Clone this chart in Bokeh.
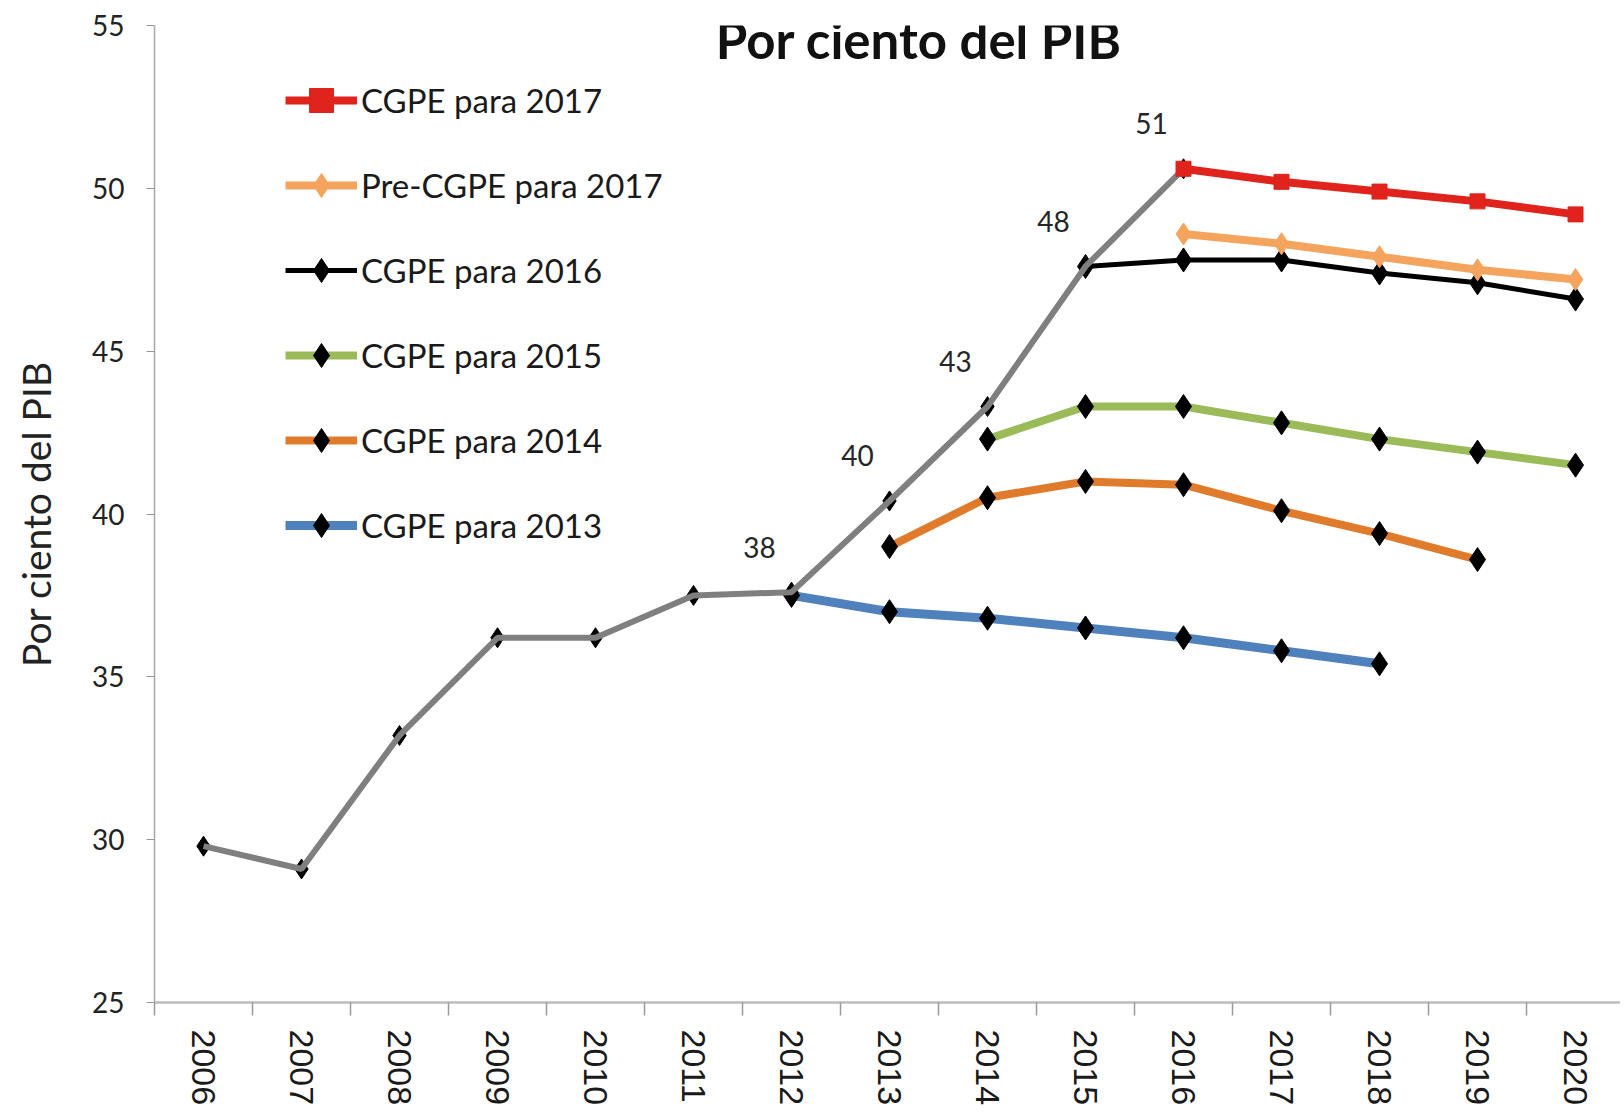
import math
from bokeh.plotting import figure
from bokeh.models import Range1d, FixedTicker, Label, LabelSet, ColumnDataSource
from bokeh.core.properties import value
from bokeh.embed import file_html
from bokeh.resources import INLINE

# ---- data ----
years = list(range(2006, 2021))
hist_years = list(range(2006, 2017))
hist_vals = [29.8, 29.1, 33.2, 36.2, 36.2, 37.5, 37.6, 40.4, 43.3, 47.6, 50.6]

cgpe2017_years = list(range(2016, 2021))
cgpe2017_vals = [50.6, 50.2, 49.9, 49.6, 49.2]

pre2017_years = list(range(2016, 2021))
pre2017_vals = [48.6, 48.3, 47.9, 47.5, 47.2]

cgpe2016_years = list(range(2015, 2021))
cgpe2016_vals = [47.6, 47.8, 47.8, 47.4, 47.1, 46.6]

cgpe2015_years = list(range(2014, 2021))
cgpe2015_vals = [42.3, 43.3, 43.3, 42.8, 42.3, 41.9, 41.5]

cgpe2014_years = list(range(2013, 2020))
cgpe2014_vals = [39.0, 40.5, 41.0, 40.9, 40.1, 39.4, 38.6]

cgpe2013_years = list(range(2012, 2019))
cgpe2013_vals = [37.5, 37.0, 36.8, 36.5, 36.2, 35.8, 35.4]

label_years = [2012, 2013, 2014, 2015, 2016]
y_ticks = [25, 30, 35, 40, 45, 50, 55]

TXT = "Lato"

p = figure(width=1620, height=1108, output_backend="svg", toolbar_location=None,
           x_range=Range1d(2005.5, 2020.459), y_range=Range1d(25, 55),
           min_border_left=154, min_border_right=0, min_border_top=25, min_border_bottom=106)
p.outline_line_color = None
p.grid.visible = False
p.background_fill_color = "white"

# axes
xa = p.xaxis[0]
xa.ticker = FixedTicker(ticks=years, minor_ticks=[y - 0.5 for y in years] + [2020.5])
xa.major_label_overrides = {y: str(y) for y in years}
xa.major_label_orientation = -math.pi / 2
xa.major_label_text_font = "Liberation Sans"
xa.major_label_text_font_size = "34px"
xa.major_label_text_color = "#1a1a1a"
xa.major_label_standoff = 14
xa.major_tick_out = 0
xa.major_tick_in = 0
xa.major_tick_line_color = None
xa.minor_tick_out = 13
xa.minor_tick_in = 0
xa.minor_tick_line_color = "#9a9a9a"
xa.minor_tick_line_width = 1.5
xa.axis_line_color = "#bdbdbd"
xa.axis_line_width = 2.5

ya = p.yaxis[0]
ya.ticker = FixedTicker(ticks=y_ticks)
ya.major_label_text_font = TXT
ya.major_label_text_font_size = "28px"
ya.major_label_text_color = "#222222"
ya.major_label_standoff = 22
ya.major_tick_out = 8
ya.major_tick_in = 0
ya.major_tick_line_color = "#9a9a9a"
ya.minor_tick_line_color = None
ya.axis_line_color = "#a6a6a6"
ya.axis_line_width = 1.5
ya.axis_label = "Por ciento del PIB"
ya.axis_label_text_font = TXT
ya.axis_label_text_font_size = "39px"
ya.axis_label_text_font_style = "normal"
ya.axis_label_text_color = "#222222"
ya.axis_label_standoff = 30

# series (bottom-most first)
BLUE, ORANGE, GREEN, LORANGE, RED, GRAY = "#4f81bd", "#e07b2b", "#9bbb59", "#f5a45e", "#e0231c", "#7f7f7f"

def series(xs, ys, color, lw, label, marker="diamond", msize=24, mcolor="black"):
    p.line(xs, ys, line_color=color, line_width=lw, legend_label=label)
    p.scatter(xs, ys, marker=marker, size=msize, fill_color=mcolor, line_color=mcolor,
              legend_label=label)

series(cgpe2013_years, cgpe2013_vals, BLUE, 9, "CGPE para 2013")
series(cgpe2014_years, cgpe2014_vals, ORANGE, 8, "CGPE para 2014")
series(cgpe2015_years, cgpe2015_vals, GREEN, 8, "CGPE para 2015")
series(cgpe2016_years, cgpe2016_vals, "black", 5, "CGPE para 2016")
series(pre2017_years, pre2017_vals, LORANGE, 8, "Pre-CGPE para 2017", msize=22, mcolor=LORANGE)

# historical line
p.scatter(hist_years, hist_vals, marker="diamond", size=20, fill_color="black", line_color="black")
p.line(hist_years, hist_vals, line_color=GRAY, line_width=6)

series(cgpe2017_years, cgpe2017_vals, RED, 8, "CGPE para 2017", marker="square", msize=15, mcolor=RED)

# data labels
lab_vals = [hist_vals[hist_years.index(y)] for y in label_years]
src = ColumnDataSource(dict(x=label_years, y=lab_vals, t=[f"{v:.0f}" for v in lab_vals]))
p.add_layout(LabelSet(x="x", y="y", text="t", source=src, x_offset=-32, y_offset=45,
                      text_align="center", text_baseline="middle",
                      text_font=value(TXT), text_font_size="28px", text_color="#262626"))

# chart title inside the plot area
p.add_layout(Label(x=2013.3, y=54.57, text="Por ciento del PIB", text_align="center",
                   text_baseline="middle", text_font=TXT, text_font_size="51px",
                   text_font_style="bold", text_color="#111111"))

# legend
lg = p.legend[0]
order = ["CGPE para 2017", "Pre-CGPE para 2017", "CGPE para 2016",
         "CGPE para 2015", "CGPE para 2014", "CGPE para 2013"]
items = {it.label.value: it for it in lg.items}
lg.items = [items[k] for k in order]
lg.location = (131, 447)
lg.orientation = "vertical"
lg.background_fill_alpha = 0
lg.border_line_color = None
lg.padding = 0
lg.margin = 0
lg.spacing = 25
lg.glyph_width = 72
lg.glyph_height = 60
lg.label_height = 60
lg.label_standoff = 4
lg.label_text_font = TXT
lg.label_text_font_size = "33px"
lg.label_text_color = "#1a1a1a"
lg.label_text_baseline = "middle"

open("out.html", "w").write(file_html(p, INLINE))
